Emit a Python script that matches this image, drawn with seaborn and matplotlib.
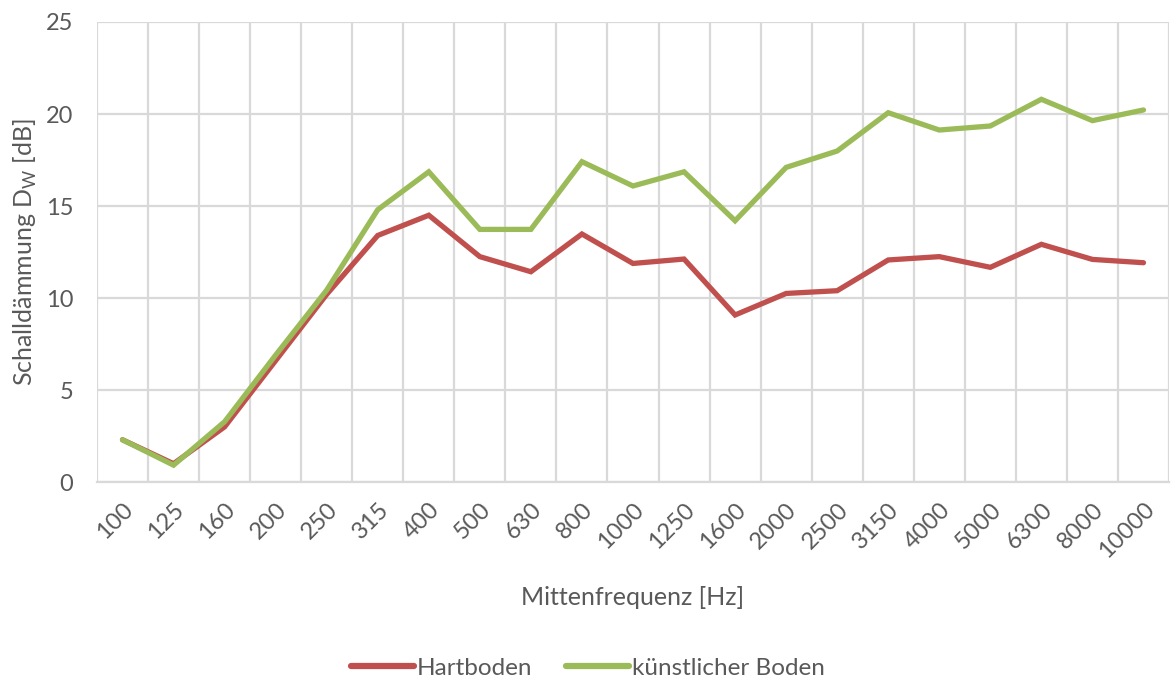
import numpy as np
import pandas as pd
import matplotlib
matplotlib.use("Agg")
import matplotlib.pyplot as plt
import seaborn as sns
from matplotlib.ticker import FixedLocator

# Data
frequencies = ["100", "125", "160", "200", "250", "315", "400", "500", "630", "800",
               "1000", "1250", "1600", "2000", "2500", "3150", "4000", "5000", "6300",
               "8000", "10000"]
hartboden = [2.3, 1.0, 3.0, 6.6, 10.2, 13.4, 14.5, 12.25, 11.43, 13.48,
             11.88, 12.12, 9.08, 10.25, 10.4, 12.07, 12.25, 11.67, 12.92,
             12.1, 11.92]
kuenstlich = [2.3, 0.92, 3.28, 6.9, 10.43, 14.8, 16.86, 13.73, 13.73, 17.41,
              16.09, 16.86, 14.2, 17.1, 17.99, 20.07, 19.13, 19.35, 20.8,
              19.64, 20.22]
series_names = ["Hartboden", "künstlicher Boden"]
colors = ["#C0504D", "#9BBB59"]

pos = np.arange(len(frequencies))
df = pd.concat([
    pd.DataFrame({"pos": pos, "value": hartboden, "Serie": series_names[0]}),
    pd.DataFrame({"pos": pos, "value": kuenstlich, "Serie": series_names[1]}),
])

sns.set_theme(style="white")
plt.rcParams["font.family"] = ["Lato", "DejaVu Sans"]
text_color = "#595959"
grid_color = "#D9D9D9"

fig = plt.figure(figsize=(11.71, 6.79), dpi=100)
ax = fig.add_axes([0.0828, 0.290, 0.9155, 0.6776])

sns.lineplot(data=df, x="pos", y="value", hue="Serie", palette=colors,
             linewidth=3.8, ax=ax, legend=True, solid_capstyle="round",
             solid_joinstyle="miter")

ax.set_xlim(-0.5, len(frequencies) - 0.5)
ax.set_ylim(0, 25)
ax.set_yticks([0, 5, 10, 15, 20, 25])
ax.set_xticks(pos)
ax.set_xticklabels(frequencies, rotation=45, ha="right", rotation_mode="anchor")
ax.xaxis.set_minor_locator(FixedLocator(np.arange(-0.5, len(frequencies), 1.0)))

ax.grid(False)
ax.grid(axis="y", which="major", color=grid_color, linewidth=1.6)
ax.grid(axis="x", which="minor", color=grid_color, linewidth=1.6)
ax.set_axisbelow(True)
for s in ax.spines.values():
    s.set_visible(False)
ax.spines["bottom"].set_visible(True)
ax.spines["bottom"].set_color(grid_color)
ax.spines["bottom"].set_linewidth(1.6)

ax.tick_params(axis="both", which="both", length=0, labelsize=17,
               colors=text_color)
ax.tick_params(axis="y", pad=17)
ax.tick_params(axis="x", pad=12)

ax.set_xlabel("Mittenfrequenz [Hz]", fontsize=18, color=text_color, labelpad=17)
ax.set_ylabel(r"Schalldämmung D$_\mathregular{W}$ [dB]", fontsize=18,
              color=text_color, labelpad=5)

handles, labels = ax.get_legend_handles_labels()
leg = fig.legend(handles, labels, loc="center", bbox_to_anchor=(0.502, 0.016),
                 ncol=2, frameon=False, fontsize=17.5, handlelength=2.6,
                 handletextpad=0.1, columnspacing=1.4)
for t in leg.get_texts():
    t.set_color(text_color)
for h in leg.get_lines():
    h.set_linewidth(4.5)
ax.get_legend().remove()

fig.savefig("out.png", dpi=100)
